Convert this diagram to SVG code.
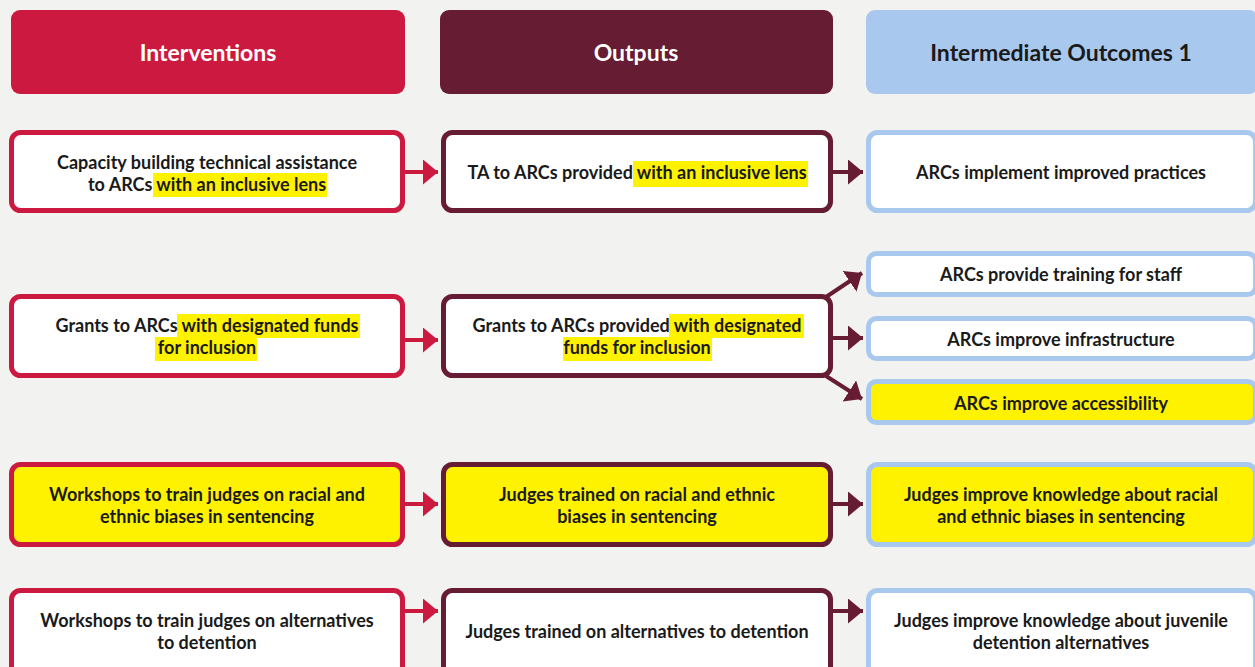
<svg xmlns="http://www.w3.org/2000/svg" width="1255" height="667" viewBox="0 0 1255 667">
<style>
.hdr{font-family:Lato,"Liberation Sans",sans-serif;font-weight:700;font-size:23px;text-anchor:middle}
.t{font-family:Lato,"Liberation Sans",sans-serif;font-weight:700;font-size:18px;text-anchor:middle;fill:#1a1a1a}
.bi{fill:#ffffff;stroke:#CC1940;stroke-width:5}
.bo{fill:#ffffff;stroke:#661C32;stroke-width:5}
.bc{fill:#ffffff;stroke:#A9C8EE;stroke-width:5}
.hl{fill:#FFF200}
.ar{stroke:#CC1940;stroke-width:4;fill:none}
.am{stroke:#661C32;stroke-width:4;fill:none}
</style>
<defs>
<marker id="mr" markerUnits="userSpaceOnUse" markerWidth="16" markerHeight="26" refX="15" refY="12.5" orient="auto"><path d="M0,0 L15,12.5 L0,25 Z" fill="#CC1940"/></marker>
<marker id="mm" markerUnits="userSpaceOnUse" markerWidth="16" markerHeight="26" refX="15" refY="12.5" orient="auto"><path d="M0,0 L15,12.5 L0,25 Z" fill="#661C32"/></marker>
</defs>
<rect width="1255" height="667" fill="#F2F2F0"/>

<g id="hdr-interventions"><rect x="11" y="10" width="394" height="84" rx="9" fill="#CC1940"/><text class="hdr" x="208" y="61" fill="#ffffff">Interventions</text></g>
<g id="hdr-outputs"><rect x="440" y="10" width="393" height="84" rx="9" fill="#661C32"/><text class="hdr" x="636" y="61" fill="#ffffff">Outputs</text></g>
<g id="hdr-outcomes"><rect x="866" y="10" width="392" height="84" rx="9" fill="#A9C8EE"/><text class="hdr" x="1061" y="61" fill="#1a1a1a">Intermediate Outcomes 1</text></g>

<g id="connectors">
<line class="ar" x1="405" y1="172" x2="438" y2="172" marker-end="url(#mr)"/>
<line class="am" x1="833" y1="172" x2="863" y2="172" marker-end="url(#mm)"/>
<line class="ar" x1="405" y1="340" x2="438" y2="340" marker-end="url(#mr)"/>
<line class="am" x1="826" y1="297" x2="862" y2="273" marker-end="url(#mm)"/>
<line class="am" x1="833" y1="338" x2="863" y2="338" marker-end="url(#mm)"/>
<line class="am" x1="826" y1="376" x2="862" y2="399" marker-end="url(#mm)"/>
<line class="ar" x1="405" y1="504" x2="438" y2="504" marker-end="url(#mr)"/>
<line class="am" x1="833" y1="504" x2="863" y2="504" marker-end="url(#mm)"/>
<line class="ar" x1="405" y1="611" x2="438" y2="611" marker-end="url(#mr)"/>
<line class="am" x1="833" y1="611" x2="863" y2="611" marker-end="url(#mm)"/>
</g>

<g id="r1-int"><rect class="bi" x="11.5" y="132.5" width="391" height="78" rx="9"/>
<rect class="hl" x="153" y="173" width="174" height="24"/>
<text class="t" x="207" y="169">Capacity building technical assistance</text>
<text class="t" x="207" y="191">to ARCs with an inclusive lens</text></g>
<g id="r1-out"><rect class="bo" x="443.5" y="132.5" width="387" height="78" rx="9"/>
<rect class="hl" x="633" y="161" width="175" height="26"/>
<text class="t" x="637" y="179">TA to ARCs provided with an inclusive lens</text></g>
<g id="r1-oc"><rect class="bc" x="868.5" y="132.5" width="387" height="78" rx="9"/>
<text class="t" x="1061" y="179">ARCs implement improved practices</text></g>

<g id="r2-int"><rect class="bi" x="11.5" y="296.5" width="391" height="79" rx="9"/>
<rect class="hl" x="177" y="314" width="183" height="24"/>
<rect class="hl" x="155" y="337" width="102" height="24"/>
<text class="t" x="207" y="332">Grants to ARCs with designated funds</text>
<text class="t" x="207" y="354">for inclusion</text></g>
<g id="r2-out"><rect class="bo" x="443.5" y="296.5" width="387" height="79" rx="9"/>
<rect class="hl" x="669" y="314" width="135" height="24"/>
<rect class="hl" x="563" y="337" width="149" height="24"/>
<text class="t" x="637" y="332">Grants to ARCs provided with designated</text>
<text class="t" x="637" y="354">funds for inclusion</text></g>
<g id="r2-oc1"><rect class="bc" x="868.5" y="253.5" width="387" height="41" rx="8"/>
<text class="t" x="1061" y="281">ARCs provide training for staff</text></g>
<g id="r2-oc2"><rect class="bc" x="868.5" y="318.5" width="387" height="40" rx="8"/>
<text class="t" x="1061" y="346">ARCs improve infrastructure</text></g>
<g id="r2-oc3"><rect class="bc" x="868.5" y="381.5" width="387" height="41" rx="8" style="fill:#FFF200"/>
<text class="t" x="1061" y="410">ARCs improve accessibility</text></g>

<g id="r3-int"><rect class="bi" x="11.5" y="464.5" width="391" height="80" rx="9" style="fill:#FFF200"/>
<text class="t" x="207" y="501">Workshops to train judges on racial and</text>
<text class="t" x="207" y="523">ethnic biases in sentencing</text></g>
<g id="r3-out"><rect class="bo" x="443.5" y="464.5" width="387" height="80" rx="9" style="fill:#FFF200"/>
<text class="t" x="637" y="501">Judges trained on racial and ethnic</text>
<text class="t" x="637" y="523">biases in sentencing</text></g>
<g id="r3-oc"><rect class="bc" x="868.5" y="464.5" width="387" height="80" rx="9" style="fill:#FFF200"/>
<text class="t" x="1061" y="501">Judges improve knowledge about racial</text>
<text class="t" x="1061" y="523">and ethnic biases in sentencing</text></g>

<g id="r4-int"><rect class="bi" x="11.5" y="590.5" width="391" height="85" rx="9"/>
<text class="t" x="207" y="627">Workshops to train judges on alternatives</text>
<text class="t" x="207" y="649">to detention</text></g>
<g id="r4-out"><rect class="bo" x="443.5" y="590.5" width="387" height="85" rx="9"/>
<text class="t" x="637" y="638">Judges trained on alternatives to detention</text></g>
<g id="r4-oc"><rect class="bc" x="868.5" y="590.5" width="387" height="85" rx="9"/>
<text class="t" x="1061" y="627">Judges improve knowledge about juvenile</text>
<text class="t" x="1061" y="649">detention alternatives</text></g>
</svg>
